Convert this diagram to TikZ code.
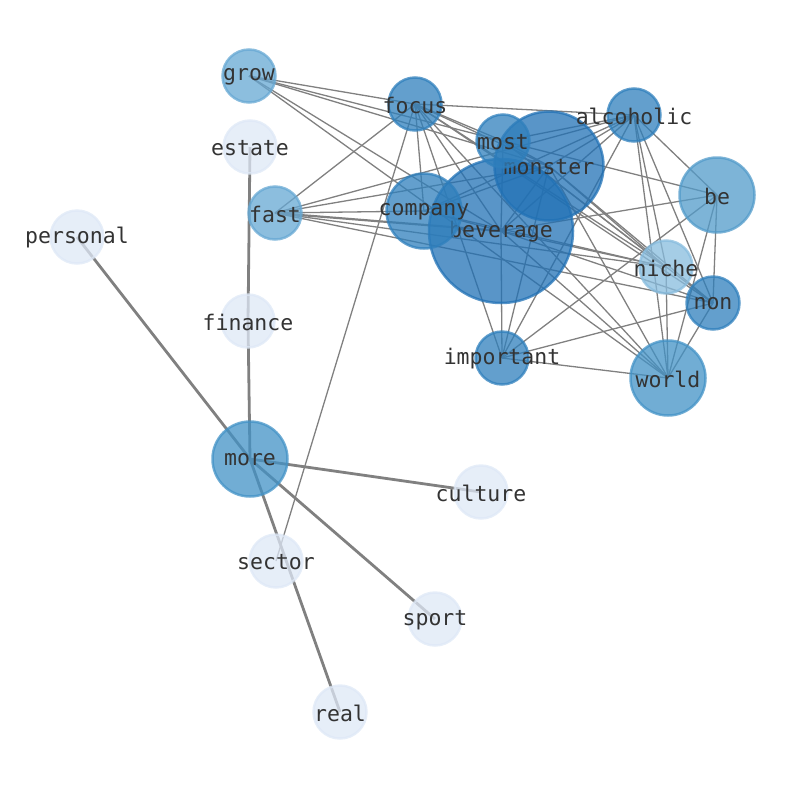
\documentclass[tikz,border=0pt]{standalone}
\usepackage{fontspec}
\setmonofont{DejaVu Sans Mono}
\usetikzlibrary{backgrounds}
\definecolor{bluedark}{HTML}{2171B5}
\definecolor{bluemid}{HTML}{2F7FBC}
\definecolor{bluesoft}{HTML}{4292C6}
\definecolor{bluebe}{HTML}{529BCA}
\definecolor{bluelight}{HTML}{66A8D3}
\definecolor{bluepale}{HTML}{87BCDE}
\definecolor{bluefaint}{HTML}{DEE8F6}
\definecolor{edgegray}{HTML}{808080}
\definecolor{labelgray}{HTML}{333333}
\begin{document}
\begin{tikzpicture}[x=1pt,y=-1pt,
	word/.style={circle, draw=#1, fill=#1, fill opacity=0.75, draw opacity=0.75, line width=2.5pt, inner sep=0pt},
	wordlabel/.style={text=labelgray, text opacity=1, yshift=-1pt, font=\ttfamily\fontsize{21.5}{21.5}\selectfont},
	small/.style={minimum size=53pt},
	medium/.style={minimum size=75pt},
	link/.style={edgegray, line width=1.3pt},
	boldlink/.style={edgegray, line width=2.8pt}]
	\useasboundingbox (0,0) rectangle (794,790);
	% word nodes
	\node[word=bluedark, minimum size=144pt, label={[wordlabel]center:beverage}] (beverage) at (501,231){};
	\node[word=bluedark, minimum size=109pt, label={[wordlabel]center:monster}] (monster) at (549,166){};
	\node[word=bluemid, small, label={[wordlabel]center:most}] (most) at (503,141){};
	\node[word=bluemid, small, label={[wordlabel]center:focus}] (focus) at (415,104){};
	\node[word=bluemid, small, label={[wordlabel]center:alcoholic}] (alcoholic) at (634,115){};
	\node[word=bluemid, medium, label={[wordlabel]center:company}] (company) at (424,211){};
	\node[word=bluemid, small, label={[wordlabel]center:non}] (non) at (713,303){};
	\node[word=bluemid, small, label={[wordlabel]center:important}] (important) at (502,358){};
	\node[word=bluesoft, medium, label={[wordlabel]center:world}] (world) at (668,378){};
	\node[word=bluesoft, medium, label={[wordlabel]center:more}] (more) at (250,459){};
	\node[word=bluebe, medium, label={[wordlabel]center:be}] (be) at (717,195){};
	\node[word=bluelight, small, label={[wordlabel]center:grow}] (grow) at (249,76){};
	\node[word=bluelight, small, label={[wordlabel]center:fast}] (fast) at (275,213){};
	\node[word=bluepale, small, label={[wordlabel]center:niche}] (niche) at (666,267){};
	\node[word=bluefaint, small, label={[wordlabel]center:estate}] (estate) at (250,147){};
	\node[word=bluefaint, small, label={[wordlabel]center:personal}] (personal) at (77,237){};
	\node[word=bluefaint, small, label={[wordlabel]center:finance}] (finance) at (248,321){};
	\node[word=bluefaint, small, label={[wordlabel]center:culture}] (culture) at (481,492){};
	\node[word=bluefaint, small, label={[wordlabel]center:sector}] (sector) at (276,561){};
	\node[word=bluefaint, small, label={[wordlabel]center:sport}] (sport) at (435,619){};
	\node[word=bluefaint, small, label={[wordlabel]center:real}] (real) at (340,712){};
	% connections
	\begin{scope}[on background layer]
		\foreach \a/\b in {grow/focus, grow/most, grow/monster, grow/beverage, grow/world,
			focus/alcoholic, focus/most, focus/monster, focus/fast, focus/company, focus/beverage,
			focus/important, focus/sector, focus/niche, focus/non, focus/world,
			fast/company, fast/monster, fast/alcoholic, fast/niche, fast/non,
			company/beverage, company/monster, company/alcoholic, company/niche,
			beverage/monster, beverage/alcoholic, beverage/most, beverage/important, beverage/niche,
			beverage/non, beverage/world, beverage/be,
			most/monster, most/alcoholic, most/be, most/niche, most/non,
			monster/alcoholic, monster/important, monster/niche, monster/non, monster/world,
			alcoholic/be, alcoholic/niche, alcoholic/non, alcoholic/world, alcoholic/important,
			be/important, be/non, be/world, niche/world, non/important, non/world, important/world}
			\draw[link] (\a.center) -- (\b.center);
		\draw[link, line width=2.2pt] (fast.center) -- (beverage.center);
		\foreach \a/\b in {estate/finance, finance/more, personal/more, more/culture, more/sport, more/real}
			\draw[boldlink] (\a.center) -- (\b.center);
	\end{scope}
\end{tikzpicture}
\end{document}
